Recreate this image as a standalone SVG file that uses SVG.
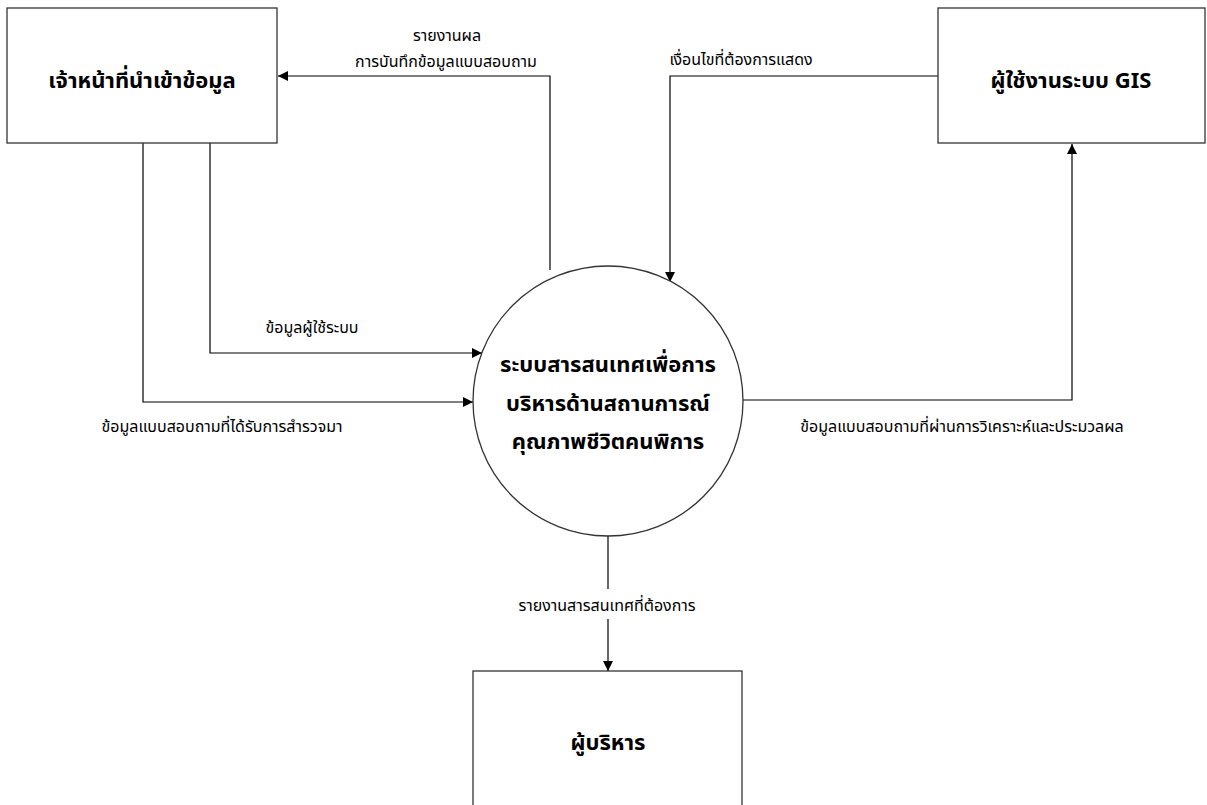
<svg xmlns="http://www.w3.org/2000/svg" width="1207" height="805" viewBox="0 0 1207 805">
<defs>
<marker id="arr" viewBox="0 0 10 10" refX="10" refY="5" markerWidth="10" markerHeight="10" markerUnits="userSpaceOnUse" orient="auto">
<path d="M0,0 L10,5 L0,10 z" fill="#000"/>
</marker>
<style>
.box{fill:#fff;stroke:#333;stroke-width:1.3}
.conn{fill:none;stroke:#000;stroke-width:1.2}
.lbl{font-family:"Noto Sans Thai","Tahoma","Noto Sans","DejaVu Sans",sans-serif;font-size:16px;fill:#000;text-anchor:middle}
.ttl{font-family:"Noto Sans Thai","Tahoma","Noto Sans","DejaVu Sans",sans-serif;font-size:22px;font-weight:bold;fill:#000;text-anchor:middle}
</style>
</defs>
<rect width="1207" height="805" fill="#fff"/>
<g id="connectors">
<polyline class="conn" points="550,270 550,76 278,76" marker-end="url(#arr)"/>
<polyline class="conn" points="938,76 670,76 670,282" marker-end="url(#arr)"/>
<polyline class="conn" points="210,143 210,353 482,353" marker-end="url(#arr)"/>
<polyline class="conn" points="143,143 143,402 473,402" marker-end="url(#arr)"/>
<polyline class="conn" points="743,400 1072,400 1072,144" marker-end="url(#arr)"/>
<polyline class="conn" points="608,536 608,671" marker-end="url(#arr)"/>
<rect x="512" y="589" width="192" height="30" fill="#fff"/>
<text class="lbl" x="447" y="41">รายงานผล</text>
<text class="lbl" x="446" y="67">การบันทึกข้อมูลแบบสอบถาม</text>
<text class="lbl" x="741" y="65">เงื่อนไขที่ต้องการแสดง</text>
<text class="lbl" x="312" y="333">ข้อมูลผู้ใช้ระบบ</text>
<text class="lbl" x="222" y="432">ข้อมูลแบบสอบถามที่ได้รับการสำรวจมา</text>
<text class="lbl" x="962" y="432">ข้อมูลแบบสอบถามที่ผ่านการวิเคราะห์และประมวลผล</text>
<text class="lbl" x="607" y="611">รายงานสารสนเทศที่ต้องการ</text>
</g>
<g id="node-staff">
<rect class="box" x="7" y="8" width="270" height="135"/>
<text class="ttl" x="142" y="88">เจ้าหน้าที่นำเข้าข้อมูล</text>
</g>
<g id="node-gis">
<rect class="box" x="938" y="8" width="267" height="135"/>
<text class="ttl" x="1071" y="88">ผู้ใช้งานระบบ GIS</text>
</g>
<g id="node-system">
<circle class="box" cx="608" cy="401" r="135"/>
<text class="ttl" x="608" y="372">ระบบสารสนเทศเพื่อการ</text>
<text class="ttl" x="608" y="411">บริหารด้านสถานการณ์</text>
<text class="ttl" x="608" y="449">คุณภาพชีวิตคนพิการ</text>
</g>
<g id="node-exec">
<rect class="box" x="473" y="671" width="269" height="140"/>
<text class="ttl" x="608" y="750">ผู้บริหาร</text>
</g>
</svg>
